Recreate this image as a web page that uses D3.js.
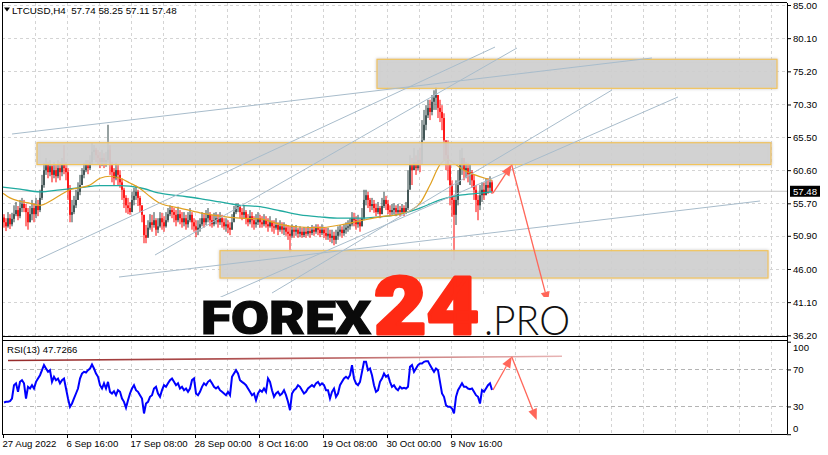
<!DOCTYPE html>
<html><head><meta charset="utf-8">
<script src="https://cdn.jsdelivr.net/npm/d3@7"></script>
<style>html,body{margin:0;padding:0;background:#fff;}svg{display:block;}</style>
</head><body>
<svg id="chart" width="828" height="455"></svg>
<script>
// ---------- DATA ----------
const symbolLabel = "LTCUSD,H4";
const lastOHLC = [57.74, 58.25, 57.11, 57.48];
const firstOpen = 53.6;
// bars: one per two H4 periods, starting 27 Aug 2022 00:00
const closes = [
52.9,52.3,53.5,52.6,53.4,54.1,54.7,53.8,55.0,55.6,55.0,54.4,52.9,54.1,55.0,54.1,55.3,54.7,56.5,58.4,
60.6,61.4,60.3,61.2,59.9,60.6,59.7,60.9,60.3,61.4,60.9,60.3,57.7,54.0,54.4,55.4,56.2,57.4,58.4,59.9,
60.6,61.4,60.9,61.8,63.3,63.6,62.8,62.4,61.8,62.4,61.8,62.1,63.6,61.4,60.3,59.4,60.6,59.9,58.8,57.7,
56.5,55.4,55.0,54.4,56.2,56.8,57.4,56.5,55.4,54.0,51.0,50.6,52.1,52.9,52.5,53.2,51.8,52.3,53.5,52.9,
52.3,53.2,54.1,54.7,54.4,54.0,53.2,54.1,53.5,52.9,53.5,52.6,53.2,54.0,52.9,52.3,51.8,52.1,52.6,53.5,
52.9,53.5,54.0,53.2,52.6,53.2,53.5,52.9,53.5,52.9,52.3,52.6,52.1,51.8,52.9,54.4,55.0,55.3,54.4,54.0,
54.4,53.5,52.9,53.8,53.2,52.6,52.9,53.5,52.9,52.6,53.2,52.6,52.3,52.9,52.3,52.1,52.5,51.8,52.3,51.8,
52.1,51.5,51.2,50.9,51.8,51.5,51.8,51.2,51.5,51.0,51.5,51.2,51.6,51.3,51.8,51.5,52.1,51.8,51.3,51.8,
51.3,50.9,51.2,50.6,50.9,50.3,50.9,51.5,51.8,51.3,51.8,52.1,52.3,52.6,53.5,53.2,52.6,52.9,52.3,53.5,
56.2,56.9,56.2,55.3,55.6,55.0,54.4,55.0,54.1,55.3,56.2,55.6,54.7,54.4,54.7,55.0,54.4,54.7,54.4,55.0,
54.4,55.0,57.7,61.4,60.6,61.8,60.9,62.1,61.4,65.0,67.3,68.7,69.8,69.2,70.7,71.3,71.7,69.8,69.2,68.3,
65.0,62.8,61.4,58.4,56.2,54.0,56.2,58.4,61.4,62.4,60.6,60.9,60.0,60.3,59.1,57.7,56.2,55.4,56.9,57.7,
56.9,58.4,58.0,58.8,57.48];
const highs = [
54.1,53.5,54.4,54.1,54.3,55.4,55.9,55.3,56.2,56.5,56.2,55.6,55.0,55.3,56.2,55.7,56.5,56.2,57.7,59.9,
61.7,62.4,61.8,62.1,61.4,61.8,61.4,62.1,61.8,62.4,64.3,61.8,60.9,58.4,56.2,56.8,57.7,58.8,59.9,60.9,
61.7,62.1,62.1,62.8,64.6,64.3,63.9,63.6,63.3,63.6,63.1,63.3,67.3,64.3,61.8,60.9,61.7,61.4,60.6,59.4,
58.0,56.9,56.5,55.9,57.4,58.0,58.3,57.7,56.8,55.4,54.0,52.5,53.2,54.1,54.0,54.4,53.5,53.5,54.4,54.3,
53.8,54.4,55.0,55.4,55.3,55.0,54.7,55.2,54.7,54.4,54.4,54.0,54.4,55.0,54.4,53.5,53.2,53.2,53.5,54.4,
54.1,54.7,55.0,54.4,54.0,54.3,54.4,54.1,54.4,54.0,53.5,53.5,53.2,52.9,54.1,55.3,55.7,55.7,55.4,55.0,
55.3,54.7,54.1,54.7,54.4,53.8,54.1,54.4,54.0,53.8,54.1,53.8,53.5,53.8,53.2,53.2,53.5,52.9,53.2,52.9,
52.9,52.6,52.5,52.3,52.6,52.3,52.5,52.1,52.3,52.1,52.2,52.1,52.3,52.2,52.5,52.3,52.6,52.6,52.3,52.6,
52.2,52.1,52.1,51.8,51.8,51.5,51.8,52.3,52.5,52.3,52.6,52.9,53.2,53.5,54.4,54.3,53.8,54.0,53.5,55.0,
57.7,57.7,57.4,56.5,56.5,56.2,55.6,55.9,55.3,56.5,57.4,56.8,56.2,55.4,55.6,55.7,55.4,55.6,55.3,55.6,
55.4,55.9,60.6,62.8,62.4,63.9,62.8,63.6,63.9,68.0,69.5,70.2,71.0,71.0,71.7,72.4,72.9,71.7,71.0,70.2,
69.0,65.0,65.0,60.6,59.1,56.9,59.1,60.6,63.6,63.9,62.4,61.8,61.7,61.4,60.6,59.9,58.4,56.9,58.4,58.8,
58.8,59.4,59.4,59.7,59.1];
const lows = [
52.1,51.6,52.1,51.9,52.3,52.9,53.8,53.2,53.5,54.4,54.4,52.3,51.8,52.9,53.2,52.9,53.5,53.8,54.4,56.2,
58.0,59.9,59.4,59.7,58.8,59.4,58.8,59.4,59.1,59.7,60.0,59.1,56.2,52.9,52.9,54.1,55.0,56.2,56.9,58.4,
59.4,60.3,60.0,60.6,61.4,62.1,61.8,61.4,60.9,61.2,60.9,61.1,61.7,59.9,58.8,58.4,59.1,58.3,58.0,56.2,
55.0,54.3,54.1,54.0,54.4,55.4,56.2,55.3,54.4,52.9,49.8,49.8,50.9,51.8,51.5,52.1,50.9,51.3,52.1,51.8,
51.5,52.1,52.9,53.8,53.5,52.9,52.3,52.9,52.6,52.1,52.3,51.8,52.1,52.9,51.8,51.5,50.7,51.0,51.5,52.3,
52.1,52.5,52.9,52.3,52.1,52.3,52.6,52.1,52.5,52.1,51.8,51.5,51.3,51.0,51.8,53.2,54.1,54.4,53.5,53.2,
53.5,52.6,52.3,52.6,52.1,51.8,52.1,52.5,52.1,52.1,52.3,52.1,51.5,52.1,51.5,51.2,51.8,51.0,51.5,51.2,
51.0,50.9,50.3,48.4,50.6,50.6,50.9,50.6,50.7,50.6,50.7,50.6,50.9,50.6,51.0,50.9,51.2,51.0,50.7,51.0,
50.6,50.3,50.3,50.0,49.8,49.5,49.7,50.3,50.9,50.6,50.9,51.2,51.5,51.8,52.3,52.3,51.8,52.1,51.5,52.3,
53.2,55.4,55.0,54.4,54.7,54.3,53.8,54.1,53.5,54.1,55.0,54.7,54.1,53.8,54.0,54.1,53.8,54.0,53.8,54.1,
53.8,54.1,54.7,58.4,58.4,60.6,59.9,60.6,60.3,62.1,65.3,66.5,68.3,68.0,68.7,69.5,69.5,68.3,67.7,66.5,
62.1,60.6,59.1,55.4,53.7,47.3,52.5,55.4,58.4,59.9,59.1,59.4,58.8,58.4,58.0,56.2,54.4,53.2,54.7,55.9,
56.2,56.9,57.1,57.4,57.1];
const rsiValues = [
34.3,35,35,35.7,38.6,53,55,45.8,56.6,58.4,55,38.6,51.2,49.4,53,49.4,56.6,60.2,63.8,69.2,
74.7,71,67.4,69.2,56.6,62,58.4,60.2,55,58.4,60.2,49.4,38.6,29.6,33.2,38.6,44,49.4,60.2,65.6,
67.4,66.7,69.2,71,75.4,71,65.6,62,53,49.4,55,49.4,56.6,45.8,44,46.5,42.2,47.6,45.8,38.6,
35,28.5,36.8,44,49.4,53,47.6,45.8,42.2,38.6,22.4,33.2,35,40.4,42.2,49.4,51.2,44,40.4,47.6,
53,51.2,55,58.4,60.2,56.6,53,55,49.4,51.2,47.6,49.4,45.8,49.4,58.4,60.2,44,42.2,45.8,51.2,
55,53,56.6,58.4,55,51.2,49.4,51.2,47.6,45.8,44,42.2,45.8,42.2,62,65.6,69.2,65.6,58.4,56.6,
55,53,49.4,45.8,42.2,44,36.8,44,47.6,45.8,49.4,45.8,60.2,56.6,47.6,40.4,44,45.8,42.2,44,
47.6,42.2,35,26,44,47.6,49.4,53,51.2,47.6,44,45.8,49.4,51.2,53,51.2,55,56.6,53,55,
53,47.6,47.6,38.6,45.8,49.4,40.4,44,53,56.6,60.2,62,60.2,63.8,74.7,60.2,55,53,56.6,67.4,
78.3,78.3,69.2,71,63.8,53,45.8,47.6,56.6,60.2,65.6,62,63.8,56.6,51.2,53,49.4,47.6,51.2,49.4,
50.1,49.4,51.2,72.8,74.7,67.4,71,74.7,76.5,76.5,78.3,79,79,74.7,71,67.4,71,69.2,56.6,44,
40.4,31.4,29.6,29.6,27.8,22.4,40.4,47.6,51.2,55,51.2,51.2,49.4,48.7,49.4,45.8,42.2,40.4,33.2,47.6,
45.8,49.4,53,55,47.7];
const rsiLabel = "RSI(13) 47.7266";
// moving averages (bar index, price)
const maFastBars = [0,7,17,27,37,47,57,67,77,87,97,107,117,127,137,147,157,177,197,217,237,257,277,297,317,337,357,377,397,407,417,427,437,444,452,462,472,482,489];
const maFastValues = [57.2,56.5,56.0,55.7,55.4,56.0,56.9,57.7,58.0,58.4,59.4,59.7,59.4,58.7,57.9,56.7,55.7,55.0,54.3,53.8,53.5,53.4,52.6,52.2,52.1,52.5,53.1,53.7,54.1,54.6,55.7,58.4,61.4,62.2,61.5,60.5,59.9,59.4,59.1];
const maSlowBars = [0,17,37,57,77,97,117,137,157,177,197,217,237,257,277,297,317,337,357,377,397,417,437,457,477,489];
const maSlowValues = [58.1,57.8,57.4,57.7,58.0,58.3,58.3,58.0,57.2,56.8,56.4,55.9,55.4,55.2,54.6,54.0,53.7,53.5,53.5,53.7,54.1,55.0,56.2,56.9,57.2,57.4];
// axis labels
const priceTicks = [85.00,80.10,75.20,70.30,65.50,60.60,55.70,50.90,46.00,41.10,36.20];
const rsiTicks = [100,70,30,0];
const rsiLevels = [70,30];
const timeTickBars = [0,64,128,192,256,320,384,448];
const timeLabels = ["27 Aug 2022","6 Sep 16:00","17 Sep 08:00","28 Sep 00:00","8 Oct 16:00","19 Oct 08:00","30 Oct 00:00","9 Nov 16:00"];
// annotations (bar index, price)
const zones = [
  {b1:374,b2:774,top:76.98,bottom:72.69},
  {b1:34,b2:768,top:64.65,bottom:61.43},
  {b1:217,b2:765,top:48.70,bottom:44.66}];
const trendLines = [
  [9,65.94,649,77.17],
  [34,47.32,492,78.79],
  [152,48.06,514,78.65],
  [195,40.38,675,71.41],
  [269,42.45,609,72.44],
  [116,44.81,757,56.04]];
const forecastPrice = [[490,57.2],[508.7,61.4],[545,41.0]];
const rsiTopLine = [[5,79.7],[559,84.2]];
const forecastRsi = [[490,47.8],[508.7,83.8],[533.7,15.4]];

// ---------- LAYOUT ----------
const svg = d3.select("#chart");
const L = 2, R = 787, mainTop = 2.5, mainBottom = 336, rsiTop = 340, rsiBottom = 434;
const x = d3.scaleLinear().domain([0,784]).range([3,787]);
const y = d3.scaleLinear().domain([36.2,85]).range([335.3,5]);
const yR = d3.scaleLinear().domain([0,100]).range([434.2,341.7]);
const FONT = "'Liberation Sans', Arial, sans-serif";

svg.append("rect").attr("width",828).attr("height",455).attr("fill","#fff");
const defs = svg.append("defs");
defs.append("clipPath").attr("id","clipMain").append("rect")
  .attr("x",L).attr("y",mainTop).attr("width",R-L).attr("height",mainBottom-mainTop);
defs.append("clipPath").attr("id","clipRsi").append("rect")
  .attr("x",L).attr("y",rsiTop).attr("width",R-L).attr("height",rsiBottom-rsiTop);
const shadow = defs.append("filter").attr("id","zoneShadow").attr("x","-5%").attr("y","-30%").attr("width","110%").attr("height","160%");
shadow.append("feGaussianBlur").attr("in","SourceAlpha").attr("stdDeviation",1.6).attr("result","b");
shadow.append("feFlood").attr("flood-color","#bbbbbb").attr("flood-opacity",0.9);
shadow.append("feComposite").attr("in2","b").attr("operator","in").attr("result","s");
const fm = shadow.append("feMerge"); fm.append("feMergeNode").attr("in","s"); fm.append("feMergeNode").attr("in","SourceGraphic");
const grad = defs.append("linearGradient").attr("id","rsiLineGrad")
  .attr("gradientUnits","userSpaceOnUse").attr("x1",x(rsiTopLine[0][0])).attr("x2",x(rsiTopLine[1][0])).attr("y1",0).attr("y2",0);
grad.append("stop").attr("offset","0%").attr("stop-color","#962a2a");
grad.append("stop").attr("offset","55%").attr("stop-color","#b86060");
grad.append("stop").attr("offset","100%").attr("stop-color","#e8b4b4");

const main = svg.append("g").attr("clip-path","url(#clipMain)");
const rsiG = svg.append("g").attr("clip-path","url(#clipRsi)");

// grid
const gridBars = d3.range(32,784,32);
const gridStyle = s => s.attr("stroke","#d4d4d4").attr("stroke-width",1).attr("stroke-dasharray","3,3").attr("shape-rendering","crispEdges");
main.selectAll("line.vg").data(gridBars).join("line").attr("class","vg")
  .attr("x1",d=>x(d)).attr("x2",d=>x(d)).attr("y1",mainTop).attr("y2",mainBottom).call(gridStyle);
main.selectAll("line.hg").data(priceTicks).join("line").attr("class","hg")
  .attr("x1",L).attr("x2",R).attr("y1",d=>Math.round(y(d))+0.5).attr("y2",d=>Math.round(y(d))+0.5).call(gridStyle);
rsiG.selectAll("line.vg").data(gridBars).join("line").attr("class","vg")
  .attr("x1",d=>x(d)).attr("x2",d=>x(d)).attr("y1",rsiTop).attr("y2",rsiBottom).call(gridStyle);
rsiG.selectAll("line.hg").data(rsiLevels).join("line").attr("class","hg")
  .attr("x1",L).attr("x2",R).attr("y1",d=>Math.round(yR(d))+0.5).attr("y2",d=>Math.round(yR(d))+0.5)
  .attr("stroke","#b4b4b4").attr("stroke-width",1).attr("stroke-dasharray","4,3").attr("shape-rendering","crispEdges");

// bid line
const lastClose = lastOHLC[3];
main.append("line").attr("x1",L).attr("x2",R).attr("y1",y(lastClose)).attr("y2",y(lastClose))
  .attr("stroke","#c8c8c8").attr("stroke-width",1);

// candles
const bars = closes.map((c,i)=>({b:2*i, o: i===0?firstOpen:closes[i-1], h:highs[i], l:lows[i], c}));
const UP = "#2f4444", DOWN = "#ff0000";
const cg = main.append("g");
cg.selectAll("line.wick").data(bars).join("line").attr("class","wick")
  .attr("x1",d=>x(d.b)+1).attr("x2",d=>x(d.b)+1).attr("y1",d=>y(d.h)).attr("y2",d=>y(d.l))
  .attr("stroke",d=>d.c>=d.o?UP:DOWN).attr("stroke-width",1);
cg.selectAll("rect.body").data(bars).join("rect").attr("class","body")
  .attr("x",d=>x(d.b)+0.2).attr("width",1.6)
  .attr("y",d=>y(Math.max(d.o,d.c))).attr("height",d=>Math.max(1,Math.abs(y(d.o)-y(d.c))))
  .attr("fill",d=>d.c>=d.o?UP:DOWN);

// moving averages
const maLine = d3.line().x(d=>x(d[0])).y(d=>y(d[1])).curve(d3.curveMonotoneX);
main.append("path").attr("d",maLine(maSlowBars.map((b,i)=>[b,maSlowValues[i]])))
  .attr("fill","none").attr("stroke","#20aaa0").attr("stroke-width",1.3);
main.append("path").attr("d",maLine(maFastBars.map((b,i)=>[b,maFastValues[i]])))
  .attr("fill","none").attr("stroke","#e0a020").attr("stroke-width",1.2);

// zones
main.selectAll("rect.zone").data(zones).join("rect").attr("class","zone")
  .attr("x",d=>x(d.b1)).attr("width",d=>x(d.b2)-x(d.b1))
  .attr("y",d=>y(d.top)).attr("height",d=>y(d.bottom)-y(d.top))
  .attr("fill","#d2d2d2").attr("fill-opacity",0.78)
  .attr("stroke","#f2c45a").attr("stroke-width",1.2).attr("filter","url(#zoneShadow)");

// trend lines
main.selectAll("line.trend").data(trendLines).join("line").attr("class","trend")
  .attr("x1",d=>x(d[0])).attr("y1",d=>y(d[1])).attr("x2",d=>x(d[2])).attr("y2",d=>y(d[3]))
  .attr("stroke","#a8bccb").attr("stroke-width",1);

// arrows
function drawArrows(g, pts, sx, sy, color){
  for(let i=0;i<pts.length-1;i++){
    const x0=sx(pts[i][0]), y0=sy(pts[i][1]), x1=sx(pts[i+1][0]), y1=sy(pts[i+1][1]);
    const a=Math.atan2(y1-y0,x1-x0), len=11, wid=4.5;
    const bx=x1-len*Math.cos(a), by=y1-len*Math.sin(a);
    g.append("line").attr("x1",x0).attr("y1",y0).attr("x2",bx).attr("y2",by)
      .attr("stroke",color).attr("stroke-width",1.3);
    g.append("path").attr("d",`M${x1},${y1}L${bx-wid*Math.sin(a)},${by+wid*Math.cos(a)}L${bx+wid*Math.sin(a)},${by-wid*Math.cos(a)}Z`)
      .attr("fill",color);
  }
}
drawArrows(main, forecastPrice, x, y, "#ff6659");

// logo
const logo = main.append("g");
logo.append("rect").attr("x",196).attr("y",297).attr("width",382).attr("height",39).attr("fill","#fff");
logo.append("text").attr("x",201).attr("y",334).text("FOREX")
  .attr("font-family","Roboto, 'Open Sans', 'DejaVu Sans', sans-serif").attr("font-weight",900)
  .attr("font-size",47).attr("fill","#0a0a0a").attr("stroke","#0a0a0a").attr("stroke-width",1.2)
  .attr("textLength",170).attr("lengthAdjust","spacingAndGlyphs");
logo.append("text").attr("x",374).attr("y",334).text("24")
  .attr("font-family","Roboto, 'Open Sans', 'DejaVu Sans', sans-serif").attr("font-weight",900)
  .attr("font-size",80).attr("fill","#ff2a14").attr("stroke","#ff2a14").attr("stroke-width",3)
  .attr("stroke-linejoin","round").attr("textLength",105).attr("lengthAdjust","spacingAndGlyphs");
logo.append("text").attr("x",484).attr("y",335).text(".PRO")
  .attr("font-family","Lato, 'Open Sans', sans-serif").attr("font-weight",300)
  .attr("font-size",42).attr("fill","#111").attr("textLength",86).attr("lengthAdjust","spacingAndGlyphs");

// RSI panel
rsiG.append("line").attr("x1",x(rsiTopLine[0][0])).attr("y1",yR(rsiTopLine[0][1]))
  .attr("x2",x(rsiTopLine[1][0])).attr("y2",yR(rsiTopLine[1][1]))
  .attr("stroke","url(#rsiLineGrad)").attr("stroke-width",1.6);
const rsiLine = d3.line().x((d,i)=>x(2*i)+1).y(d=>yR(d));
rsiG.append("path").attr("d",rsiLine(rsiValues)).attr("fill","none").attr("stroke","#0000ff").attr("stroke-width",2);
drawArrows(rsiG, forecastRsi, x, yR, "#ff6659");

// frame
const frame = svg.append("g").attr("stroke","#000").attr("stroke-width",1).attr("shape-rendering","crispEdges");
frame.append("line").attr("x1",L).attr("x2",R).attr("y1",2.5).attr("y2",2.5);
frame.append("line").attr("x1",L).attr("x2",R).attr("y1",mainBottom).attr("y2",mainBottom);
frame.append("line").attr("x1",L).attr("x2",R).attr("y1",rsiTop).attr("y2",rsiTop);
frame.append("line").attr("x1",L).attr("x2",R).attr("y1",rsiBottom).attr("y2",rsiBottom);
frame.append("line").attr("x1",L).attr("x2",L).attr("y1",2.5).attr("y2",rsiBottom);
frame.append("line").attr("x1",R).attr("x2",R).attr("y1",2.5).attr("y2",rsiBottom);

// axes
const axP = svg.append("g").attr("transform",`translate(${R},0)`)
  .call(d3.axisRight(y).tickValues(priceTicks).tickFormat(d3.format(".2f")).tickSize(4).tickPadding(2));
const axR = svg.append("g").attr("transform",`translate(${R},0)`)
  .call(d3.axisRight(yR).tickValues(rsiTicks).tickFormat(d3.format("d")).tickSize(4).tickPadding(2));
axR.selectAll(".tick text").attr("dy",d=>d===100?"0.95em":(d===0?"-0.3em":"0.32em"));
const axT = svg.append("g").attr("transform",`translate(0,${rsiBottom})`)
  .call(d3.axisBottom(x).tickValues(timeTickBars).tickFormat((d,i)=>timeLabels[i]).tickSize(4).tickPadding(2));
axT.selectAll(".tick text").attr("text-anchor","start").attr("x",-1);
[axP,axR,axT].forEach(a=>{
  a.select(".domain").remove();
  a.selectAll("text").attr("font-family",FONT).attr("font-size",9.6).attr("fill","#000");
  a.selectAll(".tick line").attr("stroke","#000");
});

// current price label
svg.append("rect").attr("x",790).attr("y",y(lastClose)-5.5).attr("width",30).attr("height",11).attr("fill","#000");
svg.append("text").attr("x",793).attr("y",y(lastClose)).attr("dy","0.35em").text(d3.format(".2f")(lastClose))
  .attr("font-family",FONT).attr("font-size",9.6).attr("fill","#fff");

// header
svg.append("path").attr("d","M4,7.5L10,7.5L7,11.5Z").attr("fill","#000");
svg.append("text").attr("x",12).attr("y",14).attr("xml:space","preserve")
  .text(`${symbolLabel}  ${lastOHLC.map(d3.format(".2f")).join(" ")}`)
  .attr("font-family",FONT).attr("font-size",9.8).attr("fill","#000");
svg.append("text").attr("x",7).attr("y",352.5).text(rsiLabel)
  .attr("font-family",FONT).attr("font-size",9.6).attr("fill","#000");
</script>
</body></html>
